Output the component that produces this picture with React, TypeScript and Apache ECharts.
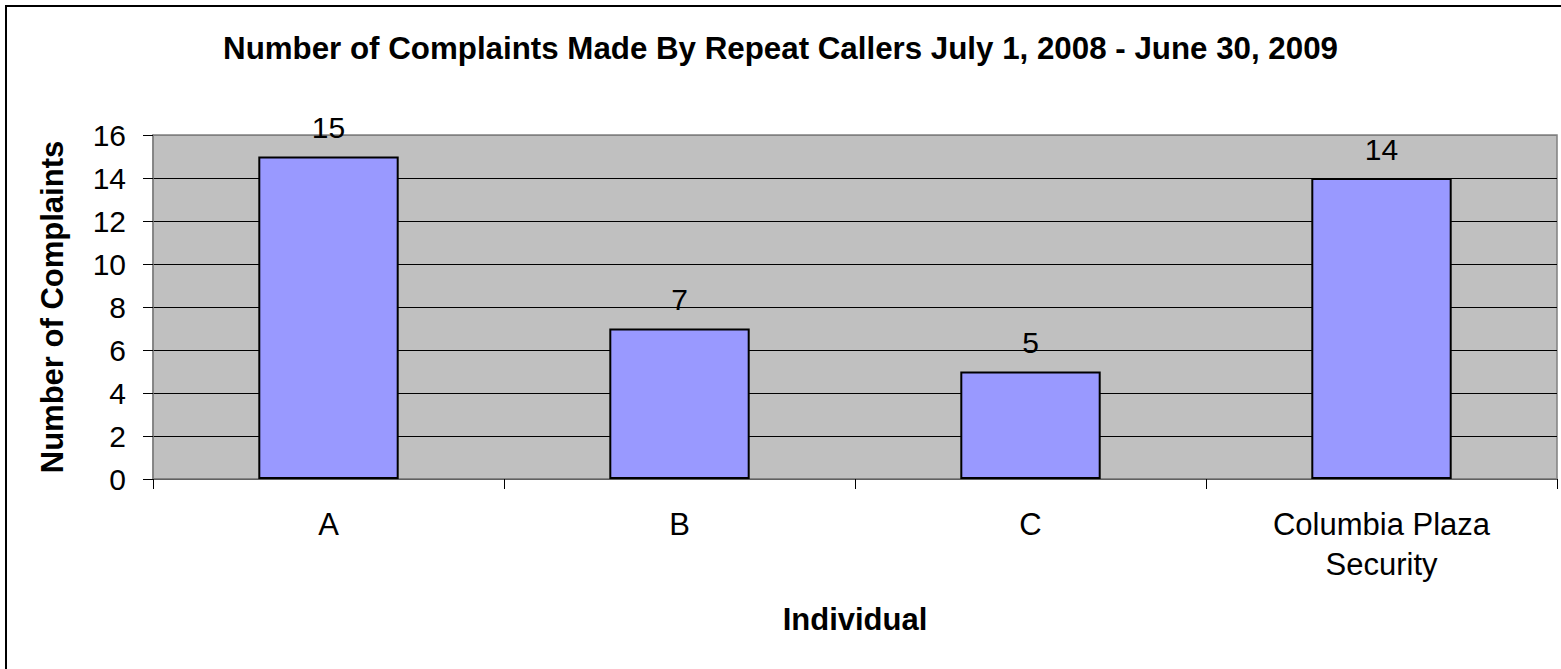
import React, { useEffect, useRef } from "react";
import * as echarts from "echarts";

const categories = ["A", "B", "C", "Columbia Plaza\nSecurity"];
const complaints = [15, 7, 5, 14];
const yMin = 0;
const yMax = 16;
const yStep = 2;

const titleText = "Number of Complaints Made By Repeat Callers July 1, 2008 - June 30, 2009";
const xName = "Individual";
const yName = "Number of Complaints";

const FONT = "'Liberation Sans', Arial, Helvetica, sans-serif";

export default function App() {
  const ref = useRef<HTMLDivElement>(null);

  useEffect(() => {
    if (!ref.current) return;
    const chart = echarts.init(ref.current, undefined, { renderer: "svg" });
    const splitColors: string[] = [];
    for (let v = yMin; v <= yMax; v += yStep) {
      splitColors.push(v === yMax ? "#808080" : "#000000");
    }
    chart.setOption({
      animation: false,
      backgroundColor: "#ffffff",
      textStyle: { fontFamily: FONT },
      title: {
        text: titleText,
        left: "center",
        top: 33,
        padding: 0,
        textStyle: { fontFamily: FONT, fontSize: 31.3, fontWeight: "bold", color: "#000" },
      },
      graphic: [
        {
          type: "rect",
          shape: { x: 6, y: 6, width: 1600, height: 700 },
          style: { fill: "none", stroke: "#000", lineWidth: 2 },
          silent: true,
        },
      ],
      grid: {
        left: 153,
        top: 135,
        right: 4,
        bottom: 190,
        show: true,
        backgroundColor: "#C0C0C0",
        borderColor: "#808080",
        borderWidth: 1.5,
      },
      xAxis: {
        type: "category",
        data: categories,
        name: xName,
        nameLocation: "middle",
        nameGap: 125,
        nameTextStyle: { fontFamily: FONT, fontSize: 31, fontWeight: "bold", color: "#000" },
        axisLine: { lineStyle: { color: "#808080", width: 1.5 } },
        axisTick: { show: true, length: 10, lineStyle: { color: "#000", width: 1 } },
        axisLabel: {
          fontFamily: FONT,
          fontSize: 31,
          color: "#000",
          margin: 25,
          lineHeight: 40,
          interval: 0,
        },
        splitLine: { show: false },
      },
      yAxis: {
        type: "value",
        min: yMin,
        max: yMax,
        interval: yStep,
        name: yName,
        nameLocation: "middle",
        nameGap: 85,
        nameTextStyle: { fontFamily: FONT, fontSize: 31, fontWeight: "bold", color: "#000" },
        axisLine: { show: true, lineStyle: { color: "#808080", width: 1.5 } },
        axisTick: { show: true, length: 10, lineStyle: { color: "#000", width: 1 } },
        axisLabel: { fontFamily: FONT, fontSize: 30, color: "#000", margin: 27 },
        splitLine: { show: true, lineStyle: { color: splitColors, width: 1 } },
      },
      series: [
        {
          type: "bar",
          data: complaints,
          barWidth: "40%",
          itemStyle: { color: "#9999FF", borderColor: "#000", borderWidth: 2 },
          label: {
            show: true,
            position: "top",
            distance: 14,
            fontFamily: FONT,
            fontSize: 30,
            color: "#000",
          },
        },
      ],
    });
    return () => chart.dispose();
  }, []);

  return (
    <div
      ref={ref}
      style={{ position: "absolute", left: 0, top: 0, width: 1561, height: 669 }}
    />
  );
}
